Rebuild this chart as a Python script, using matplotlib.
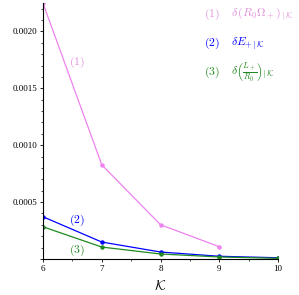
import numpy as np
import matplotlib
matplotlib.use("Agg")
import matplotlib.pyplot as plt
from matplotlib.ticker import MultipleLocator

plt.rcParams['mathtext.fontset'] = 'cm'
plt.rcParams['font.family'] = ['Liberation Serif', 'DejaVu Serif']

# data
k_vals = [6, 7, 8, 9, 10]
omega_err = [0.002246, 0.000827, 0.000301, 0.000108]      # (1), k = 6..9
energy_err = [0.000371, 0.000149, 0.0000614, 0.000024, 0.000011]  # (2)
length_err = [0.000283, 0.000105, 0.000044, 0.000018, 0.000006]   # (3)

pink = "#ee82ee"
pink_txt = "#e08ed8"
blue = "#0000ff"
green = "#1f8a1f"

fig = plt.figure(figsize=(2.99, 2.95), dpi=100)
ax = fig.add_axes([0.144, 0.122, 0.786, 0.868])

ax.plot(k_vals[:4], omega_err, color=pink, lw=0.9, marker="o", ms=2.2)
ax.plot(k_vals, energy_err, color=blue, lw=0.9, marker="o", ms=2.2)
ax.plot(k_vals, length_err, color=green, lw=0.9, marker="o", ms=2.2)

ax.set_xlim(6, 10)
ax.set_ylim(0, 0.00225)
ax.xaxis.set_major_locator(MultipleLocator(1))
ax.xaxis.set_minor_locator(MultipleLocator(0.5))
ax.yaxis.set_major_locator(MultipleLocator(0.0005))
ax.yaxis.set_minor_locator(MultipleLocator(0.0001))
ax.yaxis.set_major_formatter(plt.FuncFormatter(lambda v, p: "" if v == 0 else f"{v:.4f}"))
ax.tick_params(labelsize=6.5, length=2.5, width=0.6, pad=1.5)
ax.tick_params(which="minor", length=1.5, width=0.5)
for s in ["top", "right"]:
    ax.spines[s].set_visible(False)
for s in ["left", "bottom"]:
    ax.spines[s].set_linewidth(0.8)

ax.set_xlabel(r"$\mathcal{K}$", fontsize=10, labelpad=4)

# curve labels
ax.annotate(r"$(1)$", xy=(77, 233), xycoords="figure pixels", color=pink_txt, fontsize=8.5, ha="center", va="center")
ax.annotate(r"$(2)$", xy=(77, 75), xycoords="figure pixels", color=blue, fontsize=8.5, ha="center", va="center")
ax.annotate(r"$(3)$", xy=(77, 45), xycoords="figure pixels", color=green, fontsize=8.5, ha="center", va="center")

# legend-style text block
legend_rows = [
    ("$(1)$", r"$\delta\,(R_0\Omega_+)_{\,|\,\mathcal{K}}$", pink_txt, 281),
    ("$(2)$", r"$\delta E_{+\,|\,\mathcal{K}}$", blue, 252),
    ("$(3)$", r"$\delta\left(\frac{L_+}{R_0}\right)_{|\,\mathcal{K}}$", green, 223),
]
for num, expr, col, ypix in legend_rows:
    ax.annotate(num, xy=(212, ypix), xycoords="figure pixels", color=col, fontsize=8.5, ha="center", va="center")
    ax.annotate(expr, xy=(231, ypix), xycoords="figure pixels", color=col, fontsize=8.5, ha="left", va="center")

fig.savefig("out.png", dpi=100)
